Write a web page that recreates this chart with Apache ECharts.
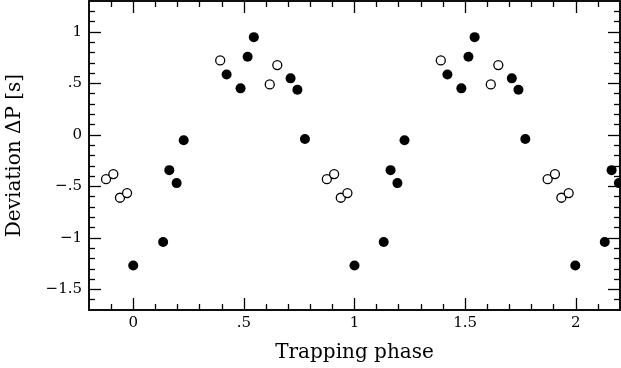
<!DOCTYPE html>
<html>
<head>
<meta charset="utf-8">
<script src="https://cdn.jsdelivr.net/npm/echarts@6/dist/echarts.min.js"></script>
<style>html,body{margin:0;padding:0;background:#fff}#c{width:621px;height:368px}</style>
</head>
<body>
<div id="c"></div>
<script>
// Open circles: phase and deviation
const openPhase = [-0.123, -0.090, -0.060, -0.028, 0.393, 0.617, 0.651, 0.875, 0.908, 0.938, 0.968,
                   1.390, 1.616, 1.650, 1.873, 1.906, 1.935, 1.968];
const openDev   = [-0.43, -0.38, -0.61, -0.565, 0.723, 0.49, 0.678, -0.43, -0.38, -0.61, -0.565,
                   0.723, 0.49, 0.678, -0.43, -0.38, -0.61, -0.565];
// Filled circles: phase and deviation
const filledPhase = [0.000, 0.135, 0.163, 0.196, 0.228, 0.422, 0.485, 0.517, 0.545, 0.711, 0.742, 0.776,
                     1.000, 1.132, 1.163, 1.194, 1.226, 1.420, 1.483, 1.515, 1.543, 1.711, 1.741, 1.772,
                     1.998, 2.131, 2.162, 2.195];
const filledDev   = [-1.268, -1.039, -0.342, -0.468, -0.052, 0.587, 0.452, 0.758, 0.949, 0.549, 0.439, -0.039,
                     -1.268, -1.039, -0.342, -0.468, -0.052, 0.587, 0.452, 0.758, 0.949, 0.549, 0.439, -0.039,
                     -1.268, -1.039, -0.342, -0.468];
// Ticks
const xMajor = [0, 0.5, 1, 1.5, 2];
const xLabels = ['0', '.5', '1', '1.5', '2'];
const xMinor = [-0.1, 0.1, 0.2, 0.3, 0.4, 0.6, 0.7, 0.8, 0.9, 1.1, 1.2, 1.3, 1.4, 1.6, 1.7, 1.8, 1.9, 2.1];
const yMajor = [-1.5, -1, -0.5, 0, 0.5, 1];
const yLabels = ['\u22121.5', '\u22121', '\u2212.5', '0', '.5', '1'];
const yMinor = [-1.6, -1.4, -1.3, -1.2, -1.1, -0.9, -0.8, -0.7, -0.6, -0.4, -0.3, -0.2, -0.1,
                0.1, 0.2, 0.3, 0.4, 0.6, 0.7, 0.8, 0.9, 1.1, 1.2];
const xTitle = 'Trapping phase';
const yTitle = 'Deviation \u0394P [s]';

const FONT = 'DejaVu Serif';
const X_MIN = -0.2, X_MAX = 2.2, Y_MIN = -1.7, Y_MAX = 1.3;

function fmt(vals, labels) {
  return function (v) {
    for (let i = 0; i < vals.length; i++) if (Math.abs(vals[i] - v) < 1e-6) return labels[i];
    return '';
  };
}
function xAx(pos, ticks, len, labels, extra) {
  return Object.assign({
    type: 'value', position: pos, min: X_MIN, max: X_MAX,
    axisLine: { show: true, onZero: false, lineStyle: { color: '#000', width: 1.5 } },
    axisTick: { show: true, inside: true, length: len, customValues: ticks, lineStyle: { color: '#000', width: 1.3 } },
    axisLabel: labels ? { show: true, customValues: xMajor, formatter: fmt(xMajor, xLabels), fontFamily: FONT, fontSize: 15, color: '#000', margin: 6 } : { show: false },
    splitLine: { show: false }
  }, extra || {});
}
function yAx(pos, ticks, len, labels, extra) {
  return Object.assign({
    type: 'value', position: pos, min: Y_MIN, max: Y_MAX,
    axisLine: { show: true, onZero: false, lineStyle: { color: '#000', width: 1.5 } },
    axisTick: { show: true, inside: true, length: len, customValues: ticks, lineStyle: { color: '#000', width: 1.3 } },
    axisLabel: labels ? { show: true, customValues: yMajor, formatter: fmt(yMajor, yLabels), fontFamily: FONT, fontSize: 15, color: '#000', margin: 7 } : { show: false },
    splitLine: { show: false }
  }, extra || {});
}

const chart = echarts.init(document.getElementById('c'), null, { renderer: 'canvas' });
chart.setOption({
  animation: false,
  backgroundColor: '#fff',
  grid: { left: 89, right: 1, top: 1, bottom: 58, containLabel: false, outerBoundsMode: 'none' },
  xAxis: [
    xAx('bottom', xMajor, 12, true, {
      name: xTitle, nameLocation: 'middle', nameGap: 33,
      nameTextStyle: { fontFamily: FONT, fontSize: 20, color: '#000' }
    }),
    xAx('bottom', xMinor, 6, false),
    xAx('top', xMajor, 12, false),
    xAx('top', xMinor, 6, false)
  ],
  yAxis: [
    yAx('left', yMajor, 12, true, {
      name: yTitle, nameLocation: 'middle', nameGap: 64,
      nameTextStyle: { fontFamily: FONT, fontSize: 20, color: '#000' }
    }),
    yAx('left', yMinor, 6, false),
    yAx('right', yMajor, 12, false),
    yAx('right', yMinor, 6, false)
  ],
  series: [
    {
      type: 'scatter', xAxisIndex: 0, yAxisIndex: 0,
      data: openPhase.map((p, i) => [p, openDev[i]]),
      symbol: 'circle', symbolSize: 9,
      itemStyle: { color: '#fff', borderColor: '#000', borderWidth: 1.3, opacity: 1 }
    },
    {
      type: 'scatter', xAxisIndex: 0, yAxisIndex: 0,
      data: filledPhase.map((p, i) => [p, filledDev[i]]),
      symbol: 'circle', symbolSize: 10,
      itemStyle: { color: '#000', opacity: 1 }
    }
  ]
});
</script>
</body>
</html>
